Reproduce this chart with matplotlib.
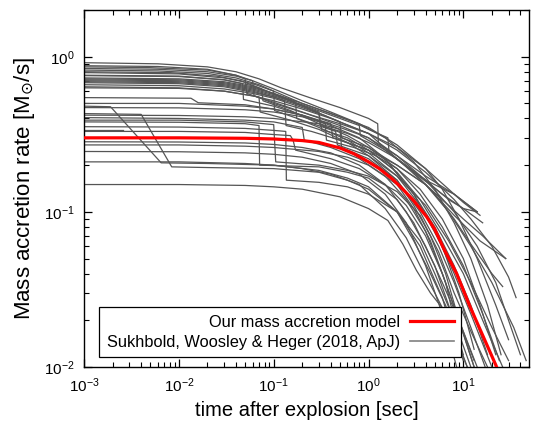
import matplotlib
matplotlib.use('Agg')
from matplotlib import pyplot as plt
from matplotlib.lines import Line2D

plt.rcParams['font.family'] = ['Liberation Sans', 'DejaVu Sans']

# our model
model_t = [0.001, 0.01, 0.05, 0.1, 0.2, 0.3, 0.5, 0.7, 1.0, 1.3, 1.8, 2.3, 3.0,
           4.1, 5.0, 6.3, 8.5, 11.6, 16, 22, 25]
model_m = [0.30, 0.30, 0.298, 0.295, 0.288, 0.28, 0.258, 0.237, 0.21, 0.19,
           0.162, 0.14, 0.118, 0.093, 0.077, 0.057, 0.04, 0.025, 0.016, 0.0103,
           0.0085]

# Sukhbold et al. progenitors, read by eye: (time [s], Mdot [Msun/s])
top_curves = [
    ([0.001, 0.006, 0.02, 0.04, 0.07, 0.12, 0.25, 0.5, 1.0, 1.25, 1.27, 2, 4, 8, 14],
     [0.915, 0.90, 0.86, 0.80, 0.72, 0.63, 0.54, 0.47, 0.40, 0.37, 0.28, 0.23, 0.17, 0.13, 0.10]),
    ([0.001, 0.006, 0.02, 0.04, 0.05, 0.052, 0.09, 0.2, 0.5, 1, 2, 4, 8, 15, 28],
     [0.875, 0.865, 0.83, 0.76, 0.72, 0.58, 0.52, 0.44, 0.36, 0.30, 0.22, 0.15, 0.095, 0.065, 0.05]),
    ([0.001, 0.005, 0.02, 0.04, 0.06, 0.062, 0.1, 0.25, 0.5, 1, 2, 4, 6, 9, 14, 22, 30],
     [0.86, 0.85, 0.82, 0.76, 0.70, 0.56, 0.50, 0.42, 0.37, 0.32, 0.26, 0.19, 0.14, 0.09, 0.05, 0.025, 0.015]),
    ([0.001, 0.006, 0.02, 0.04, 0.06, 0.1, 0.2, 0.4, 0.8, 1.5, 3, 5, 8, 12, 18, 25],
     [0.84, 0.83, 0.80, 0.75, 0.70, 0.62, 0.52, 0.44, 0.37, 0.30, 0.21, 0.14, 0.085, 0.05, 0.025, 0.012]),
    ([0.001, 0.006, 0.02, 0.04, 0.07, 0.1, 0.2, 0.5, 1, 2, 4, 7, 10, 15],
     [0.82, 0.81, 0.78, 0.73, 0.66, 0.60, 0.50, 0.41, 0.35, 0.27, 0.19, 0.14, 0.115, 0.095]),
    ([0.001, 0.008, 0.025, 0.045, 0.075, 0.077, 0.15, 0.3, 0.6, 1, 2, 3.5, 6, 10, 16, 24],
     [0.80, 0.79, 0.75, 0.70, 0.62, 0.52, 0.45, 0.37, 0.31, 0.26, 0.19, 0.13, 0.08, 0.045, 0.022, 0.011]),
    ([0.001, 0.01, 0.03, 0.06, 0.1, 0.102, 0.2, 0.45, 0.47, 1, 2, 4, 7, 12, 20, 30],
     [0.79, 0.775, 0.73, 0.67, 0.60, 0.45, 0.39, 0.33, 0.27, 0.23, 0.17, 0.11, 0.065, 0.035, 0.018, 0.011]),
    ([0.001, 0.01, 0.03, 0.047, 0.048, 0.1, 0.2, 0.5, 1, 2, 4, 7, 10, 14],
     [0.76, 0.75, 0.71, 0.67, 0.53, 0.48, 0.42, 0.35, 0.30, 0.23, 0.16, 0.12, 0.105, 0.10]),
    ([0.001, 0.01, 0.03, 0.06, 0.08, 0.12, 0.2, 0.5, 1, 2, 4, 8, 12, 20, 30, 36],
     [0.755, 0.745, 0.71, 0.65, 0.61, 0.55, 0.48, 0.38, 0.32, 0.25, 0.18, 0.12, 0.09, 0.06, 0.038, 0.028]),
    ([0.001, 0.01, 0.03, 0.06, 0.1, 0.17, 0.175, 0.3, 0.6, 1, 2, 3.5, 6, 9, 13],
     [0.73, 0.72, 0.69, 0.64, 0.58, 0.51, 0.40, 0.35, 0.29, 0.24, 0.17, 0.11, 0.06, 0.03, 0.013]),
    ([0.001, 0.01, 0.03, 0.06, 0.1, 0.2, 0.4, 0.7, 1, 1.6, 1.65, 3, 5, 8, 12, 20, 26],
     [0.72, 0.71, 0.68, 0.63, 0.58, 0.50, 0.43, 0.38, 0.34, 0.30, 0.24, 0.18, 0.13, 0.09, 0.062, 0.04, 0.033]),
    ([0.001, 0.01, 0.03, 0.06, 0.1, 0.15, 0.3, 0.32, 0.6, 1, 1.8, 3, 5, 8, 12, 18],
     [0.71, 0.70, 0.67, 0.62, 0.57, 0.52, 0.44, 0.34, 0.30, 0.25, 0.19, 0.13, 0.08, 0.045, 0.025, 0.012]),
    ([0.001, 0.01, 0.03, 0.06, 0.1, 0.2, 0.5, 0.8, 0.82, 1.5, 3, 6, 10, 16],
     [0.70, 0.69, 0.66, 0.61, 0.56, 0.49, 0.40, 0.36, 0.31, 0.25, 0.18, 0.13, 0.105, 0.085]),
    ([0.001, 0.01, 0.03, 0.06, 0.1, 0.13, 0.135, 0.25, 0.5, 1, 2, 4, 7, 12, 20, 34, 46],
     [0.69, 0.68, 0.65, 0.60, 0.55, 0.52, 0.36, 0.33, 0.29, 0.25, 0.20, 0.15, 0.10, 0.06, 0.035, 0.018, 0.011]),
    ([0.001, 0.01, 0.03, 0.06, 0.1, 0.2, 0.5, 0.52, 1, 2, 4, 7, 10, 16, 28],
     [0.68, 0.67, 0.64, 0.59, 0.55, 0.48, 0.38, 0.30, 0.26, 0.20, 0.15, 0.11, 0.09, 0.07, 0.05]),
    ([0.001, 0.01, 0.03, 0.06, 0.1, 0.2, 0.3, 0.31, 0.6, 1, 2, 4, 8, 14, 22, 30, 40],
     [0.66, 0.65, 0.62, 0.58, 0.54, 0.47, 0.43, 0.36, 0.32, 0.28, 0.22, 0.16, 0.10, 0.06, 0.035, 0.02, 0.012]),
    ([0.001, 0.01, 0.03, 0.07, 0.072, 0.15, 0.3, 0.6, 1, 2, 3.5, 5.5, 8, 12, 17],
     [0.64, 0.63, 0.60, 0.55, 0.44, 0.39, 0.34, 0.28, 0.23, 0.16, 0.10, 0.06, 0.035, 0.018, 0.01]),
    ([0.001, 0.01, 0.03, 0.06, 0.1, 0.2, 0.4, 1, 2, 4, 8, 14],
     [0.63, 0.625, 0.60, 0.56, 0.52, 0.46, 0.40, 0.32, 0.22, 0.16, 0.13, 0.10]),
]

mid_curves = [
    ([0.001, 0.0134, 0.016, 0.05, 0.1, 0.2, 0.4, 0.8, 1.5, 3, 5, 8, 12, 20],
     [0.545, 0.54, 0.505, 0.49, 0.46, 0.42, 0.36, 0.30, 0.22, 0.13, 0.075, 0.04, 0.022, 0.01]),
    ([0.001, 0.01, 0.05, 0.1, 0.2, 0.4, 0.42, 1, 2, 3.5, 6, 10, 16, 26],
     [0.50, 0.50, 0.48, 0.46, 0.42, 0.37, 0.30, 0.25, 0.18, 0.12, 0.07, 0.04, 0.02, 0.01]),
    ([0.001, 0.01, 0.05, 0.1, 0.2, 0.35, 0.36, 0.7, 1.2, 2, 3.5, 6, 10, 15, 22],
     [0.47, 0.468, 0.455, 0.44, 0.41, 0.37, 0.29, 0.26, 0.23, 0.19, 0.14, 0.09, 0.05, 0.025, 0.012]),
    ([0.001, 0.01, 0.05, 0.1, 0.3, 0.5, 0.52, 1, 2, 3, 4.5, 6.5, 9, 13],
     [0.42, 0.418, 0.41, 0.40, 0.37, 0.34, 0.26, 0.22, 0.16, 0.11, 0.07, 0.04, 0.02, 0.01]),
    ([0.001, 0.01, 0.05, 0.1, 0.2, 0.21, 0.4, 0.8, 1.5, 2.5, 4, 6, 9, 13],
     [0.405, 0.40, 0.39, 0.38, 0.35, 0.29, 0.26, 0.22, 0.17, 0.12, 0.075, 0.04, 0.02, 0.01]),
    ([0.001, 0.01, 0.05, 0.1, 0.105, 0.3, 0.6, 1, 2, 3.5, 5.5, 8, 12, 18],
     [0.39, 0.39, 0.38, 0.365, 0.21, 0.20, 0.185, 0.17, 0.135, 0.095, 0.055, 0.03, 0.017, 0.01]),
    ([0.001, 0.01, 0.05, 0.07, 0.071, 0.3, 0.6, 1, 2, 3, 5, 7, 10],
     [0.38, 0.378, 0.37, 0.36, 0.20, 0.195, 0.18, 0.165, 0.12, 0.085, 0.045, 0.025, 0.012]),
    ([0.001, 0.01, 0.05, 0.1, 0.134, 0.136, 0.3, 0.6, 1, 2, 3.5, 5, 8, 12],
     [0.354, 0.352, 0.345, 0.335, 0.33, 0.16, 0.155, 0.145, 0.13, 0.10, 0.065, 0.04, 0.02, 0.01]),
    ([0.001, 0.0026],
     [0.338, 0.338]),
    ([0.001, 0.01, 0.05, 0.1, 0.15, 0.16, 0.17, 0.4, 0.8, 1.5, 2.5, 4, 6, 9, 14],
     [0.33, 0.33, 0.325, 0.315, 0.31, 0.29, 0.25, 0.22, 0.19, 0.15, 0.11, 0.07, 0.04, 0.02, 0.01]),
]

# two runs with an early fast drop near 1e-3 .. 1e-2 s
early_drop_curves = [
    ([0.001, 0.0019, 0.0065, 0.02, 0.1, 0.3, 0.6, 1, 2, 3, 4.5, 6.5, 9, 11],
     [0.48, 0.476, 0.207, 0.205, 0.20, 0.185, 0.165, 0.145, 0.10, 0.065, 0.04, 0.025, 0.014, 0.01]),
    ([0.001, 0.004, 0.0084, 0.02, 0.1, 0.3, 0.6, 1, 2, 3.5, 6, 9],
     [0.43, 0.425, 0.195, 0.193, 0.19, 0.18, 0.16, 0.14, 0.10, 0.06, 0.028, 0.012]),
]

low_curves = [
    ([0.001, 0.01, 0.05, 0.1, 0.2, 0.4, 0.8, 1.5, 2.5, 4, 6, 9, 13],
     [0.283, 0.282, 0.278, 0.272, 0.26, 0.24, 0.20, 0.15, 0.10, 0.06, 0.035, 0.02, 0.011]),
    ([0.001, 0.01, 0.05, 0.1, 0.3, 0.6, 1, 2, 3, 4.5, 6.5, 9],
     [0.27, 0.27, 0.265, 0.26, 0.245, 0.225, 0.20, 0.15, 0.105, 0.065, 0.035, 0.015]),
    ([0.001, 0.01, 0.05, 0.1, 0.2, 0.4, 0.8, 1.5, 2.5, 4, 6, 8.5],
     [0.245, 0.244, 0.24, 0.235, 0.225, 0.205, 0.175, 0.13, 0.085, 0.045, 0.022, 0.01]),
    ([0.001, 0.01, 0.05, 0.1, 0.2, 0.4, 0.8, 1.5, 2.5, 3.5, 5, 7, 10],
     [0.21, 0.21, 0.205, 0.20, 0.19, 0.175, 0.15, 0.105, 0.068, 0.045, 0.03, 0.02, 0.011]),
    ([0.001, 0.01, 0.05, 0.1, 0.2, 0.5, 1, 1.6, 2.3, 3.2, 4.5, 6, 8, 11],
     [0.15, 0.15, 0.148, 0.145, 0.14, 0.125, 0.105, 0.088, 0.062, 0.042, 0.03, 0.024, 0.016, 0.01]),
]

fig = plt.figure(figsize=(5.39, 4.26), dpi=100)
ax = fig.add_axes([0.156, 0.1385, 0.825, 0.838])

gray = '#555555'
for group in (top_curves, mid_curves, early_drop_curves, low_curves):
    for t, m in group:
        ax.plot(t, m, color=gray, lw=0.9, zorder=2)

ax.plot(model_t, model_m, color='red', lw=2.3, zorder=3)

ax.set_xscale('log')
ax.set_yscale('log')
ax.set_xlim(1e-3, 49)
ax.set_ylim(1e-2, 2)

ax.set_xlabel('time after explosion [sec]', fontsize=14.5, labelpad=4)
ax.set_ylabel(r'Mass accretion rate [M$_{\odot}$/s]', fontsize=16, labelpad=5)

ax.tick_params(which='both', direction='in', top=True, right=True, labelsize=11)
ax.tick_params(which='major', length=6, width=0.9, pad=7)
ax.tick_params(which='minor', length=3.5, width=0.8)
for s in ax.spines.values():
    s.set_linewidth(1.0)

# markerfirst=False right-aligns the rows, so text sits next to the line
handles = [Line2D([], [], color='red', lw=2.3), Line2D([], [], color='#808080', lw=1.2)]
labels = ['Our mass accretion model', 'Sukhbold, Woosley & Heger (2018, ApJ)']
leg = ax.legend(handles, labels, loc='lower left', bbox_to_anchor=(0.034, 0.028),
                markerfirst=False, fancybox=False, edgecolor='black', framealpha=1,
                fontsize=11.8, handlelength=2.7, handletextpad=0.6, borderpad=0.45,
                labelspacing=0.3, borderaxespad=0)
leg.get_frame().set_linewidth(0.9)

plt.savefig('out.png', dpi=100)
